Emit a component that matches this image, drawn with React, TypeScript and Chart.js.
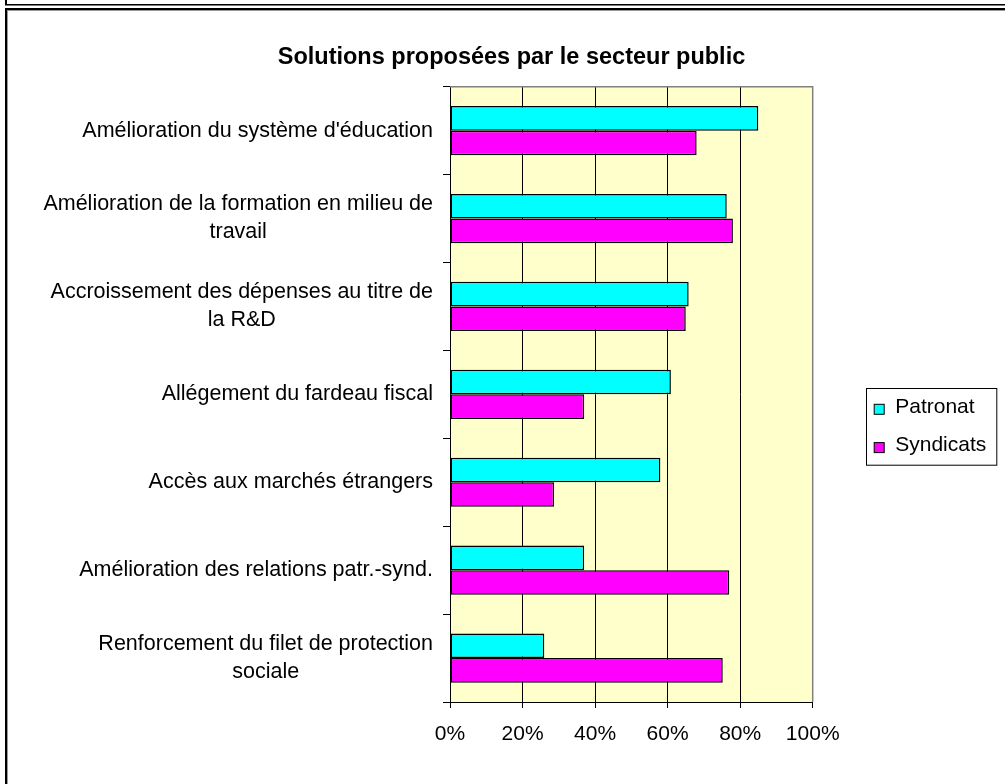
import React, { useEffect, useRef } from 'react';
import { Chart, registerables } from 'chart.js';

Chart.register(...registerables);

const TITLE = 'Solutions proposées par le secteur public';
const categories: string[][] = [
  ["Amélioration du système d'éducation"],
  ['Amélioration de la formation en milieu de', 'travail'],
  ['Accroissement des dépenses au titre de', 'la R&D'],
  ['Allégement du fardeau fiscal'],
  ['Accès aux marchés étrangers'],
  ['Amélioration des relations patr.-synd.'],
  ['Renforcement du filet de protection', 'sociale'],
];
const seriesNames = ['Patronat', 'Syndicats'];
const seriesColors = ['#00FFFF', '#FF00FF'];
const patronat = [85, 76.3, 65.8, 60.9, 58, 37, 26];
const syndicats = [68, 78, 65, 37, 28.7, 77, 75.2];
const xTicks = [0, 20, 40, 60, 80, 100];

const FONT = '"Liberation Sans", Arial, sans-serif';

const decor = {
  id: 'decor',
  beforeDraw(chart: any) {
    const { ctx, chartArea: a } = chart;
    ctx.save();
    ctx.fillStyle = '#FFFFCC';
    ctx.fillRect(a.left, a.top, a.right - a.left, a.bottom - a.top);
    ctx.restore();
  },
  afterDraw(chart: any) {
    const { ctx, chartArea: a } = chart;
    ctx.save();
    // plot border (top / right) in grey
    ctx.strokeStyle = '#808080';
    ctx.lineWidth = 1.5;
    ctx.beginPath();
    ctx.moveTo(a.left, a.top);
    ctx.lineTo(a.right, a.top);
    ctx.lineTo(a.right, a.bottom);
    ctx.stroke();

    // category labels (each block centred on its own widest line, right-aligned)
    const ys = chart.scales.y;
    ctx.font = `21.5px ${FONT}`;
    ctx.fillStyle = '#000';
    ctx.textBaseline = 'middle';
    ctx.textAlign = 'center';
    categories.forEach((lines, i) => {
      const yc = ys.getPixelForTick(i);
      const w = Math.max(...lines.map((l) => ctx.measureText(l).width));
      const xc = ys.right - 7 - 10 - w / 2;
      lines.forEach((l, j) => {
        ctx.fillText(l, xc, yc + (j - (lines.length - 1) / 2) * 28);
      });
    });

    // legend
    const lx = a.right + 53;
    const ly = a.top + 301.6;
    const lw = 130.3;
    const lh = 76.7;
    ctx.strokeStyle = '#000';
    ctx.lineWidth = 1;
    ctx.strokeRect(Math.round(lx) + 0.5, Math.round(ly) + 0.5, lw, lh);
    ctx.textAlign = 'left';
    ctx.font = `21px ${FONT}`;
    chart.data.datasets.forEach((ds: any, i: number) => {
      const cy = ly + 19 + i * 38.3;
      ctx.fillStyle = ds.backgroundColor;
      ctx.fillRect(lx + 8.5, cy - 3, 10, 10);
      ctx.strokeStyle = '#000';
      ctx.strokeRect(lx + 8.5, cy - 3, 10, 10);
      ctx.fillStyle = '#000';
      ctx.fillText(ds.label, lx + 29.5, cy);
    });
    ctx.restore();
  },
};

export default function App() {
  const ref = useRef<HTMLCanvasElement | null>(null);

  useEffect(() => {
    if (!ref.current) return;
    const chart = new Chart(ref.current, {
      type: 'bar',
      data: {
        labels: categories.map((c) => c.join(' ')),
        datasets: [
          {
            label: seriesNames[0],
            data: patronat,
            backgroundColor: seriesColors[0],
            borderColor: '#000',
            borderWidth: 1.5,
            borderSkipped: false,
          },
          {
            label: seriesNames[1],
            data: syndicats,
            backgroundColor: seriesColors[1],
            borderColor: '#000',
            borderWidth: 1.5,
            borderSkipped: false,
          },
        ],
      },
      options: {
        indexAxis: 'y',
        animation: false,
        responsive: false,
        devicePixelRatio: 1,
        categoryPercentage: 0.56,
        barPercentage: 1.0,
        layout: { padding: { left: 18, right: 0, top: 0, bottom: 0 } },
        plugins: {
          legend: { display: false },
          tooltip: { enabled: false },
          title: {
            display: true,
            text: TITLE,
            color: '#000',
            font: { family: FONT, size: 23.5, weight: 'bold' },
            padding: { top: 43, bottom: 15.5 },
          },
        },
        scales: {
          x: {
            type: 'linear',
            position: 'bottom',
            min: 0,
            max: 100,
            afterBuildTicks: (s: any) => {
              s.ticks = xTicks.map((v) => ({ value: v }));
            },
            afterFit: (s: any) => {
              s.height = 82;
            },
            ticks: {
              color: '#000',
              font: { family: FONT, size: 21 },
              padding: 14,
              callback: (v: any) => `${v}%`,
              maxRotation: 0,
            },
            grid: {
              color: (c: any) => (c.tick && c.tick.value === 100 ? '#808080' : '#000'),
              tickColor: '#000',
              lineWidth: 1,
              drawTicks: true,
              tickLength: 6,
            },
            border: { display: true, color: '#000', width: 1 },
          },
          y: {
            type: 'category',
            position: 'left',
            afterFit: (s: any) => {
              s.width = 432;
            },
            ticks: { color: 'rgba(0,0,0,0)', font: { family: FONT, size: 21 } },
            grid: {
              offset: true,
              drawOnChartArea: false,
              drawTicks: true,
              tickLength: 7,
              color: '#000',
            },
            border: { display: true, color: '#000', width: 1 },
          },
          y2: {
            type: 'linear',
            position: 'right',
            display: true,
            afterFit: (s: any) => {
              s.width = 192.3;
            },
            ticks: { display: false },
            grid: { display: false },
            border: { display: false },
          },
        },
      } as any,
      plugins: [decor],
    });
    return () => chart.destroy();
  }, []);

  const box = (style: React.CSSProperties) => (
    <div style={{ position: 'absolute', ...style }} />
  );

  return (
    <div
      style={{
        position: 'absolute',
        left: 0,
        top: 0,
        width: 1005,
        height: 784,
        overflow: 'hidden',
        background: '#fff',
      }}
    >
      {box({ left: 5, top: 0, width: 2, height: 5, background: '#000' })}
      {box({ left: 5, top: 4, width: 1000, height: 1, background: '#000' })}
      {box({ left: 5, top: 5, width: 1000, height: 1, background: '#777' })}
      {box({ left: 5, top: 8, width: 1000, height: 2, background: '#000' })}
      {box({ left: 7, top: 10, width: 998, height: 1, background: '#999' })}
      {box({ left: 5, top: 8, width: 2, height: 776, background: '#000' })}
      {box({ left: 7, top: 10, width: 1, height: 774, background: '#999' })}
      <canvas
        ref={ref}
        width={1005}
        height={784}
        style={{ position: 'absolute', left: 0, top: 0 }}
      />
    </div>
  );
}
